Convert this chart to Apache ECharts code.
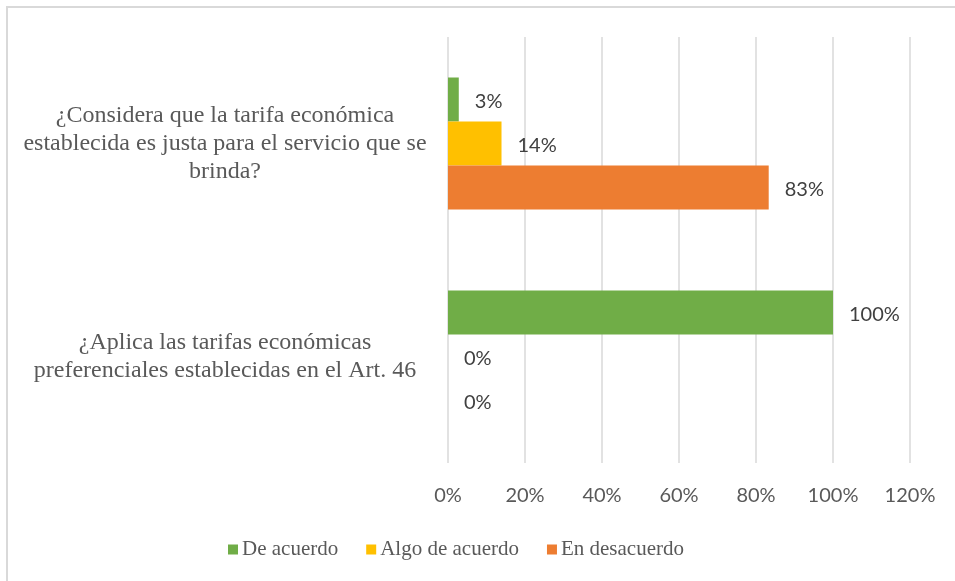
<!DOCTYPE html>
<html>
<head>
<meta charset="utf-8">
<script src="https://cdn.jsdelivr.net/npm/echarts@6/dist/echarts.min.js"></script>
<style>
  html, body { margin: 0; padding: 0; background: #fff; }
  #chart { width: 955px; height: 581px; }
</style>
</head>
<body>
<div id="chart"></div>
<script>
// categories, bottom to top as the category axis counts them
const categories = [
  '¿Aplica las tarifas económicas\npreferenciales establecidas en el Art. 46',
  '¿Considera que la tarifa económica\nestablecida es justa para el servicio que se\nbrinda?'
];
const seriesNames = ['De acuerdo', 'Algo de acuerdo', 'En desacuerdo'];
const deAcuerdo = [1.0, 0.028];
const algoDeAcuerdo = [0, 0.139];
const enDesacuerdo = [0, 0.833];
const colors = ['#70AD47', '#FFC000', '#ED7D31'];

const pct = v => Math.round(v * 100) + '%';

let myChart = echarts.init(document.getElementById('chart'));

function barSeries(name, data, color) {
  return {
    name: name,
    type: 'bar',
    barWidth: 44,
    barGap: '0%',
    itemStyle: { color: color },
    label: {
      show: true,
      position: 'right',
      distance: 16,
      offset: [0, 2],
      fontFamily: 'Lato',
      fontSize: 20,
      color: '#404040',
      formatter: p => pct(p.value)
    },
    data: data
  };
}

let option = {
  animation: false,
  backgroundColor: '#fff',
  color: colors,
  graphic: [{
    type: 'rect',
    shape: { x: 7, y: 7, width: 1200, height: 1200 },
    style: { fill: 'none', stroke: '#d9d9d9', lineWidth: 2 },
    silent: true
  }],
  grid: {
    left: 448,
    right: 45,
    top: 37,
    bottom: 118
  },
  legend: {
    left: 223,
    top: 534,
    itemWidth: 10,
    itemHeight: 10,
    itemGap: 28,
    icon: 'rect',
    textStyle: {
      fontFamily: 'Liberation Serif',
      fontSize: 21,
      color: '#595959',
      padding: [0, 0, 0, -1]
    },
    data: seriesNames
  },
  xAxis: {
    type: 'value',
    min: 0,
    max: 1.2,
    interval: 0.2,
    axisLine: { show: false },
    axisTick: { show: false },
    splitLine: { lineStyle: { color: '#d9d9d9', width: 1.5 } },
    axisLabel: {
      margin: 23,
      fontFamily: 'Lato',
      fontSize: 20,
      color: '#595959',
      formatter: v => pct(v)
    }
  },
  yAxis: {
    type: 'category',
    data: categories,
    axisLine: { show: false },
    axisTick: { show: false },
    axisLabel: {
      margin: 223,
      align: 'center',
      padding: [5, 0, 0, 0],
      fontFamily: 'Liberation Serif',
      fontSize: 24,
      lineHeight: 28,
      color: '#595959'
    }
  },
  series: [
    barSeries(seriesNames[0], deAcuerdo, colors[0]),
    barSeries(seriesNames[1], algoDeAcuerdo, colors[1]),
    barSeries(seriesNames[2], enDesacuerdo, colors[2])
  ]
};
myChart.setOption(option);
</script>
</body>
</html>
